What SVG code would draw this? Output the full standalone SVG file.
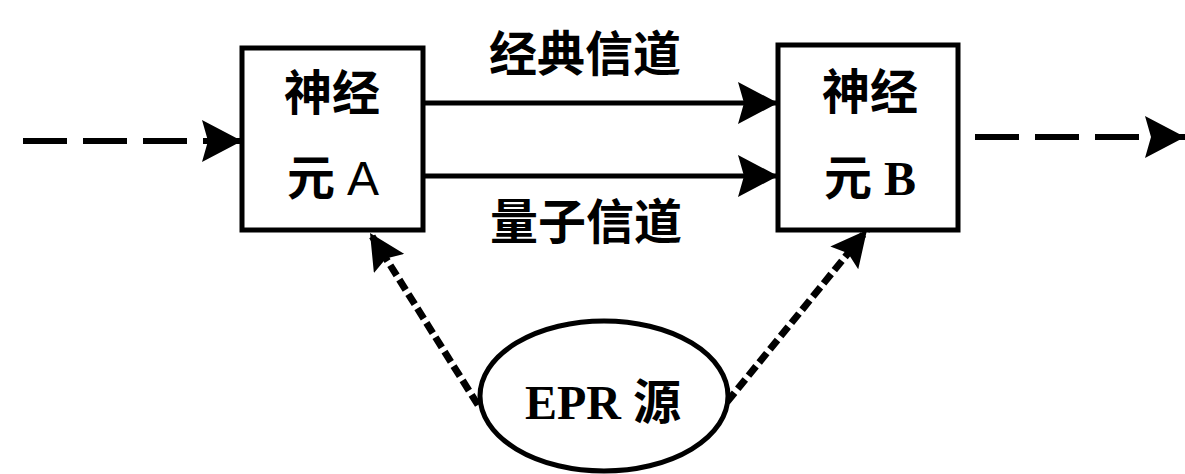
<svg xmlns="http://www.w3.org/2000/svg" width="1185" height="474" viewBox="0 0 1185 474">
<style>
.box{fill:#fff;stroke:#000;stroke-width:5}
.t{font-family:"Liberation Serif","Noto Sans CJK SC",serif;font-size:48px;font-weight:bold;fill:#000;text-anchor:middle}
.sans{font-family:"Liberation Sans",sans-serif;font-weight:normal}
.solid{stroke:#000;stroke-width:5;fill:none}
.dash{stroke:#000;stroke-width:6;fill:none;stroke-dasharray:44 16}
.dot{stroke:#000;stroke-width:7;fill:none;stroke-dasharray:12 5}
</style>
<defs>
<marker id="ah" viewBox="0 0 40 42" refX="40" refY="21" markerWidth="40" markerHeight="42" markerUnits="userSpaceOnUse" orient="auto"><path d="M0,0 L40,21 L0,42 L6,21 z" fill="#000"/></marker>
<marker id="ah2" viewBox="0 0 36 36" refX="36" refY="18" markerWidth="36" markerHeight="36" markerUnits="userSpaceOnUse" orient="auto"><path d="M0,0 L36,18 L0,36 L6,18 z" fill="#000"/></marker>
</defs>
<g id="connectors">
<line class="dash" x1="23" y1="141" x2="242" y2="141" marker-end="url(#ah)"/>
<line class="solid" x1="423" y1="103" x2="778" y2="103" marker-end="url(#ah)"/>
<line class="solid" x1="423" y1="176" x2="778" y2="176" marker-end="url(#ah)"/>
<line class="dash" x1="975" y1="137" x2="1185" y2="137" marker-end="url(#ah)"/>
<line class="dot" x1="478" y1="405" x2="370" y2="233" marker-end="url(#ah2)"/>
<line class="dot" x1="727" y1="402" x2="867" y2="230" marker-end="url(#ah2)"/>
</g>
<g id="label-classical"><text class="t" x="585" y="71">经典信道</text></g>
<g id="label-quantum"><text class="t" x="586" y="239">量子信道</text></g>
<g id="neuronA">
<rect class="box" x="242" y="48" width="181" height="182"/>
<text class="t" x="332" y="110">神经</text>
<text class="t" x="333" y="195">元 <tspan class="sans">A</tspan></text>
</g>
<g id="neuronB">
<rect class="box" x="778" y="45" width="180" height="185"/>
<text class="t" x="870" y="109">神经</text>
<text class="t" x="870" y="195">元 B</text>
</g>
<g id="epr">
<ellipse cx="604" cy="396" rx="124" ry="75" fill="#fff" stroke="#000" stroke-width="5"/>
<text class="t" x="603" y="419">EPR 源</text>
</g>
</svg>
